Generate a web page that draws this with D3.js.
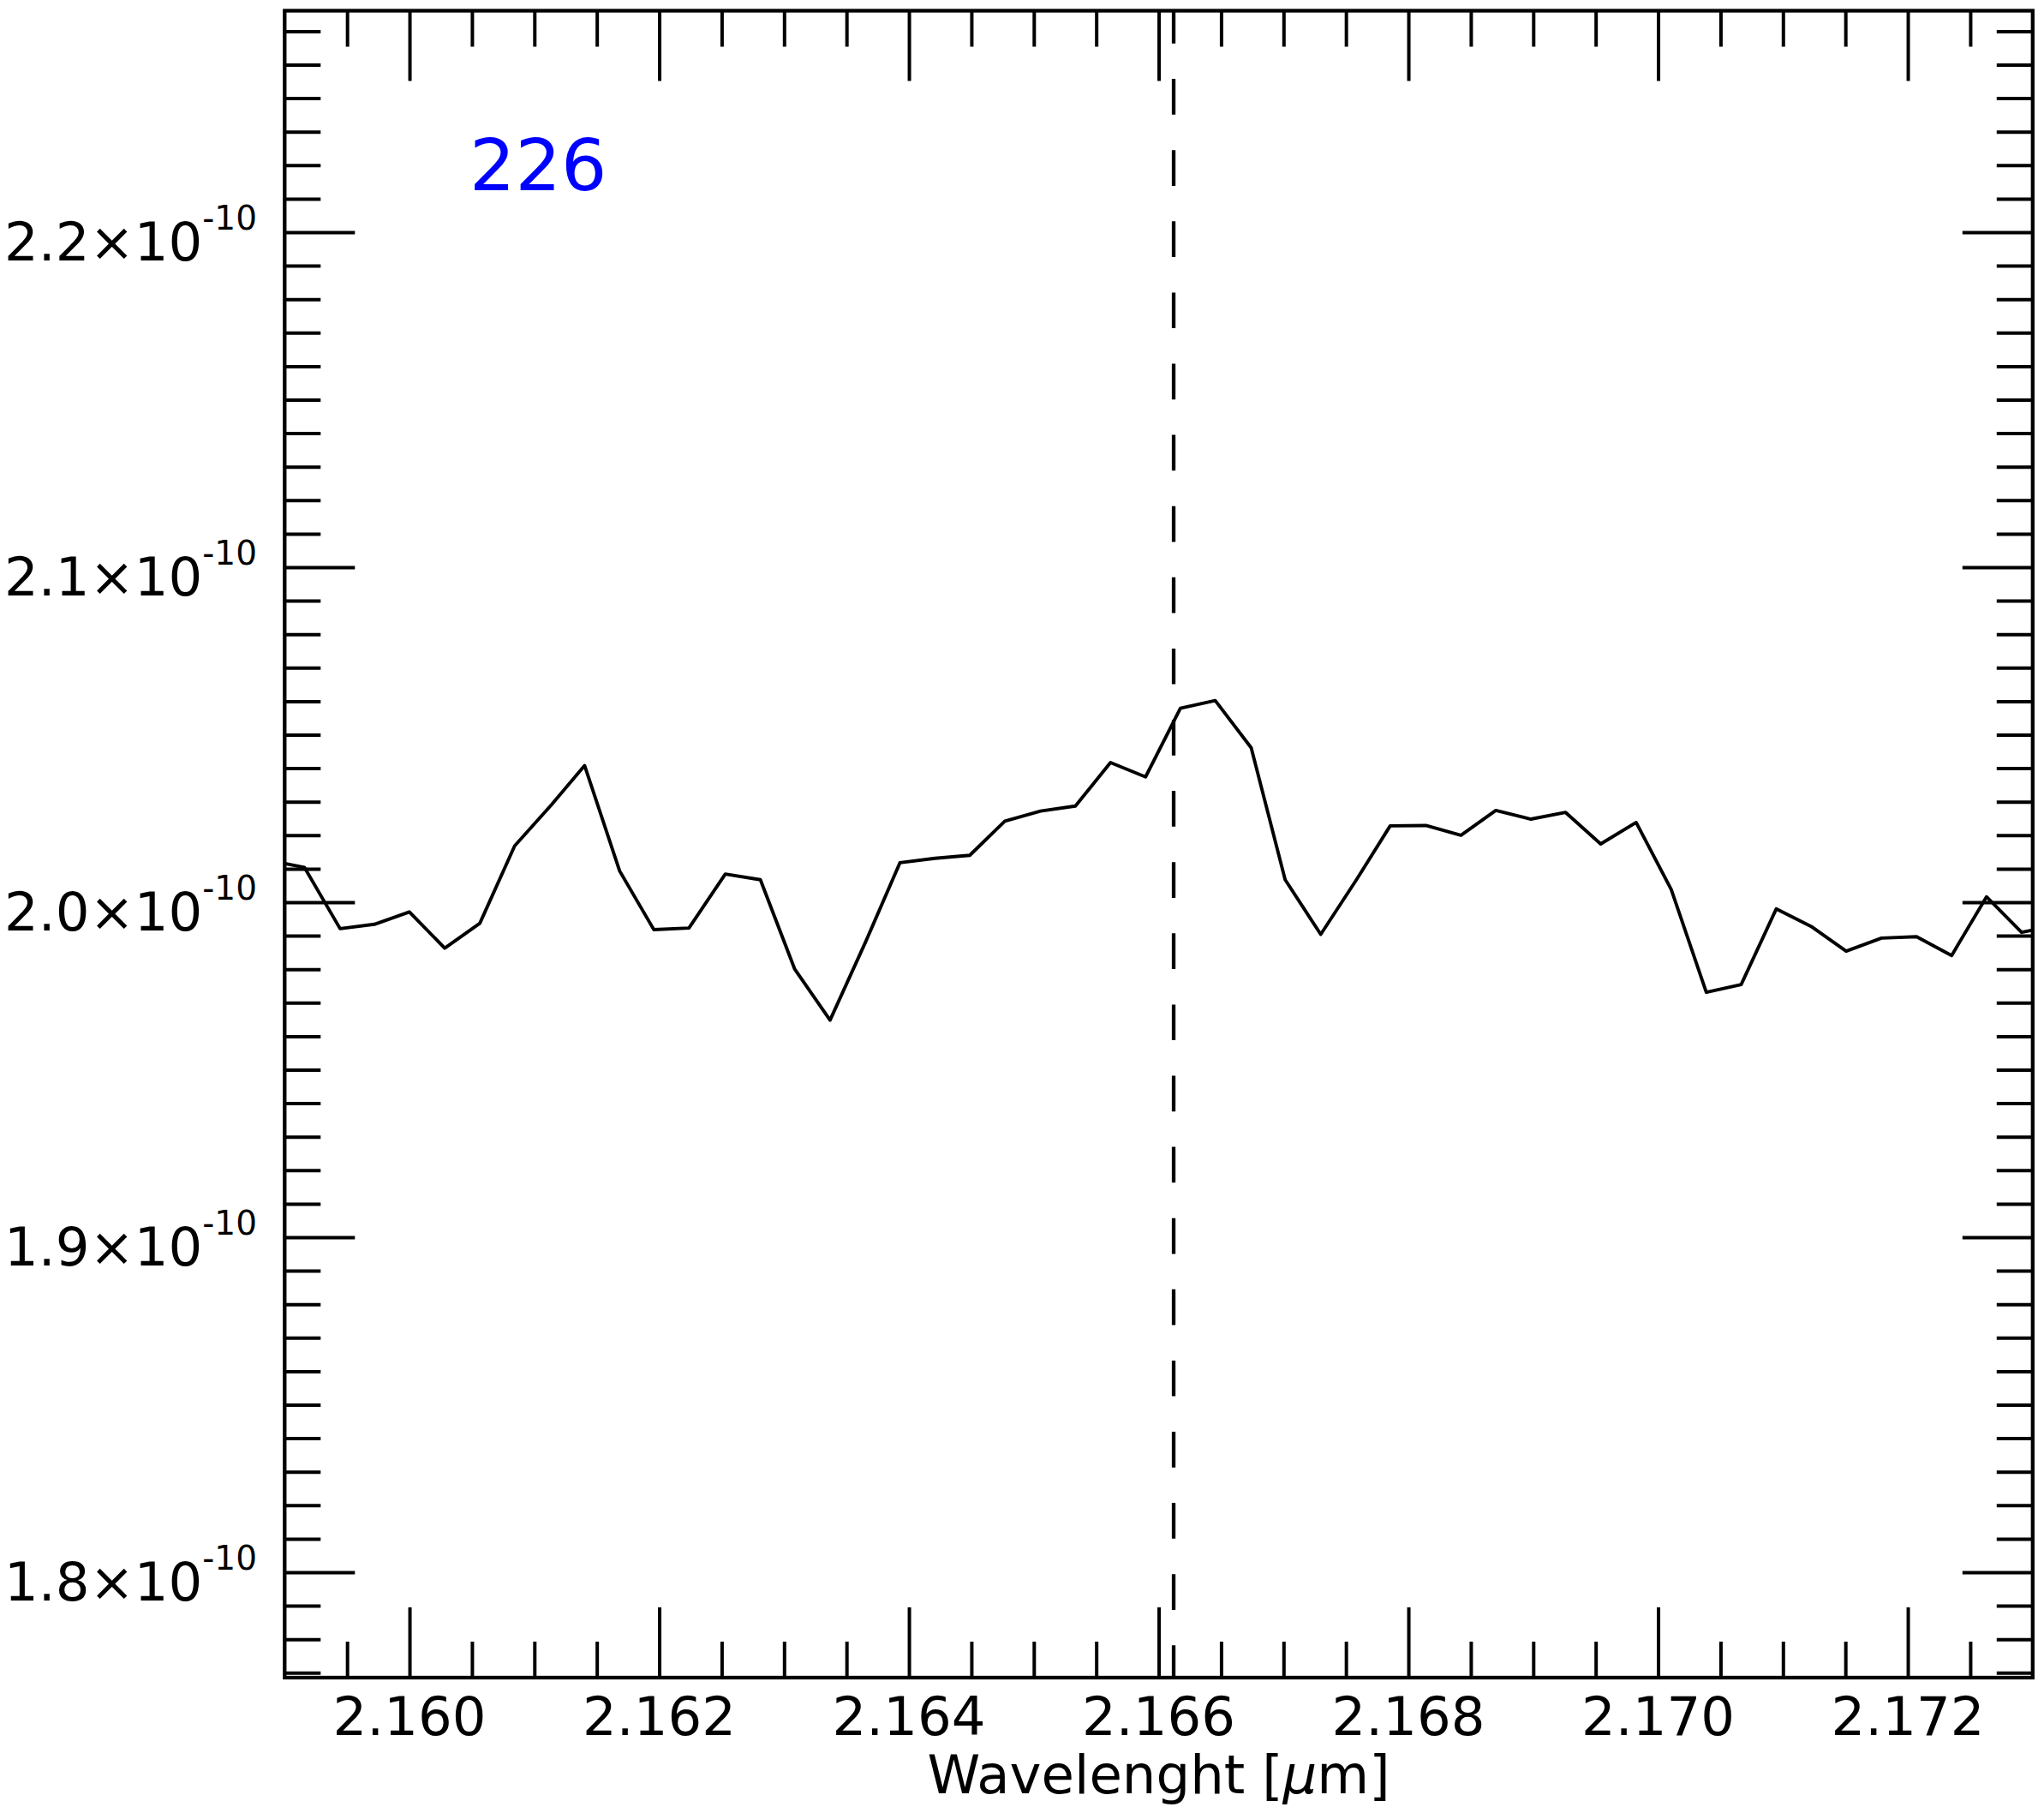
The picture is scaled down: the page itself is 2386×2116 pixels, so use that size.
<!DOCTYPE html>
<html><head><meta charset="utf-8">
<script src="https://cdn.jsdelivr.net/npm/d3@7"></script>
<style>body{margin:0;background:#fff}</style>
</head><body>
<svg id="c" width="2386" height="2116"></svg>
<script>
// Wavelength grid (μm) (first and last points lie just outside the frame)
const wavelengths = [2.158877, 2.159158, 2.159444, 2.159718, 2.159999, 2.160282, 2.160563, 2.160842,
  2.161137, 2.161402, 2.161683, 2.161957, 2.162238, 2.162529, 2.162810, 2.163084, 2.163368, 2.163651,
  2.163928, 2.164209, 2.164487, 2.164768, 2.165054, 2.165333, 2.165614, 2.165895, 2.166174, 2.166453,
  2.166741, 2.167013, 2.167298, 2.167584, 2.167854, 2.168140, 2.168421, 2.168700, 2.168981, 2.169259,
  2.169540, 2.169824, 2.170105, 2.170386, 2.170665, 2.170946, 2.171225, 2.171506, 2.171789, 2.172070,
  2.172351, 2.172630, 2.172911, 2.173192];
// Flux values (x 1e-10)
const fluxE10 = [2.0125, 2.0104, 1.9921, 1.9934, 1.9971, 1.9863, 1.9937, 2.0168,
  2.0291, 2.0408, 2.0093, 1.9918, 1.9923, 2.0084, 2.0067, 1.9801, 1.9648, 1.9880,
  2.0118, 2.0131, 2.0140, 2.0242, 2.0272, 2.0287, 2.0417, 2.0374, 2.0579, 2.0602,
  2.0461, 2.0067, 1.9904, 2.0067, 2.0228, 2.0229, 2.0200, 2.0274, 2.0248, 2.0268,
  2.0174, 2.0238, 2.0038, 1.9731, 1.9754, 1.9980, 1.9928, 1.9854, 1.9893, 1.9897,
  1.9841, 2.0016, 1.9910, 1.9931];
const flux = fluxE10.map(v => v * 1e-10);

const xDomain = [2.159, 2.173];
const yDomain = [1.76854e-10, 2.26611e-10];
const xMajorTicks = [2.160, 2.162, 2.164, 2.166, 2.168, 2.170, 2.172];
const xTickLabels = ["2.160", "2.162", "2.164", "2.166", "2.168", "2.170", "2.172"];
const yMajorTicks = [1.8e-10, 1.9e-10, 2.0e-10, 2.1e-10, 2.2e-10];
const yTickMantissa = ["1.8", "1.9", "2.0", "2.1", "2.2"];
const yTickExponent = "-10";
const lineCenter = 2.16612;
const annotation = "226";

const L = 332.3, R = 2372.8, T = 12.5, B = 1958;
const FONT = "'DejaVu Sans', sans-serif";

const svg = d3.select("#c");
const x = d3.scaleLinear().domain(xDomain).range([L, R]);
const y = d3.scaleLinear().domain(yDomain).range([B, T]);

const xMinor = d3.range(0, 29).map(i => +(2.159 + i * 0.0005).toFixed(4))
  .filter(v => v > xDomain[0] && v < xDomain[1] && !xMajorTicks.some(m => Math.abs(m - v) < 1e-7));
const yMinor = d3.range(177, 227).map(i => i / 100 * 1e-10)
  .filter(v => !yMajorTicks.some(m => Math.abs(m - v) < 1e-14));

svg.append("defs").append("clipPath").attr("id", "clip")
  .append("rect").attr("x", L).attr("y", T).attr("width", R - L).attr("height", B - T);

function styleAxis(g) {
  g.select(".domain").remove();
  g.selectAll("line").attr("stroke", "#000").attr("stroke-width", 4);
  g.selectAll("text").remove();
}
const MAJ = 82, MIN = 42;
svg.append("g").attr("transform", `translate(${L},0)`).call(d3.axisLeft(y).tickValues(yMajorTicks).tickSize(-MAJ)).call(styleAxis);
svg.append("g").attr("transform", `translate(${L},0)`).call(d3.axisLeft(y).tickValues(yMinor).tickSize(-MIN)).call(styleAxis);
svg.append("g").attr("transform", `translate(${R},0)`).call(d3.axisRight(y).tickValues(yMajorTicks).tickSize(-MAJ)).call(styleAxis);
svg.append("g").attr("transform", `translate(${R},0)`).call(d3.axisRight(y).tickValues(yMinor).tickSize(-MIN)).call(styleAxis);
svg.append("g").attr("transform", `translate(0,${B})`).call(d3.axisBottom(x).tickValues(xMajorTicks).tickSize(-MAJ)).call(styleAxis);
svg.append("g").attr("transform", `translate(0,${B})`).call(d3.axisBottom(x).tickValues(xMinor).tickSize(-MIN)).call(styleAxis);
svg.append("g").attr("transform", `translate(0,${T})`).call(d3.axisTop(x).tickValues(xMajorTicks).tickSize(-MAJ)).call(styleAxis);
svg.append("g").attr("transform", `translate(0,${T})`).call(d3.axisTop(x).tickValues(xMinor).tickSize(-MIN)).call(styleAxis);

// spectrum
const line = d3.line().x((d, i) => x(wavelengths[i])).y(d => y(d));
svg.append("path").datum(flux).attr("clip-path", "url(#clip)")
  .attr("d", line).attr("fill", "none").attr("stroke", "#000")
  .attr("stroke-width", 3.9).attr("stroke-linejoin", "round");

// dashed line
svg.append("line").attr("x1", x(lineCenter)).attr("x2", x(lineCenter))
  .attr("y1", y.range()[1]).attr("y2", y.range()[0])
  .attr("stroke", "#000").attr("stroke-width", 4.3)
  .attr("stroke-dasharray", "41.7 41.4").attr("stroke-dashoffset", 3.5);

// frame
svg.append("rect").attr("x", L).attr("y", T).attr("width", R - L).attr("height", B - T)
  .attr("fill", "none").attr("stroke", "#000").attr("stroke-width", 4.3);

// y tick labels
yMajorTicks.forEach((v, i) => {
  const t = svg.append("text").attr("x", 300).attr("y", y(v) + 33)
    .attr("text-anchor", "end").attr("font-family", FONT).attr("font-size", 62.5).attr("fill", "#000");
  t.append("tspan").text(yTickMantissa[i] + "\u00d710");
  t.append("tspan").attr("font-size", 39).attr("dy", -36).text(yTickExponent);
});

// x tick labels
xMajorTicks.forEach((v, i) => {
  svg.append("text").attr("x", x(v)).attr("y", 2025).attr("text-anchor", "middle")
    .attr("font-family", FONT).attr("font-size", 62.5).attr("fill", "#000").text(xTickLabels[i]);
});

// x axis label
const xl = svg.append("text").attr("x", (L + R) / 2).attr("y", 2093).attr("text-anchor", "middle")
  .attr("font-family", FONT).attr("font-size", 62.5).attr("fill", "#000");
xl.append("tspan").text("Wavelenght [");
xl.append("tspan").attr("font-style", "italic").text("\u03bc");
xl.append("tspan").text("m]");

// annotation
svg.append("text").attr("x", 548).attr("y", 222).attr("font-family", FONT)
  .attr("font-size", 84).attr("fill", "#0000ff").text(annotation);
</script>
</body></html>
